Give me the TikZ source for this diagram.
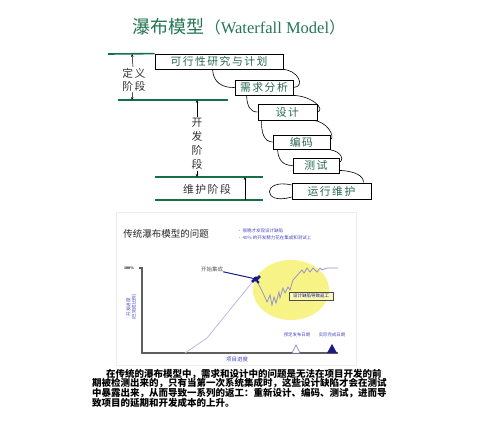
\documentclass[tikz,border=0pt]{standalone}
\usepackage{fontspec}
\setmainfont{Liberation Serif}
\newfontfamily\cjk{Noto Sans CJK SC}
\newfontfamily\cjkls{Noto Sans CJK SC}[LetterSpace=14]
\usetikzlibrary{arrows.meta}

\definecolor{wfgreen}{RGB}{35,118,82}
\definecolor{wfline}{RGB}{20,112,72}
\definecolor{wftext}{RGB}{40,105,80}
\definecolor{chnavy}{RGB}{25,25,135}
\definecolor{chblue}{RGB}{70,70,190}
\definecolor{chrise}{RGB}{185,185,232}
\definecolor{chjag}{RGB}{150,150,200}
\definecolor{chyellow}{RGB}{247,243,135}
\definecolor{chaxis}{RGB}{95,95,95}

\tikzset{
  phase/.style={draw, line width=0.8pt, minimum height=15pt, inner sep=0pt,
    fill=white, font=\cjkls\fontsize{10.8}{10.8}\selectfont, text=wftext},
  stage/.style={inner sep=1pt, font=\cjkls\fontsize{10.8}{13}\selectfont,
    text=black!80, align=center},
  bound/.style={wfline, line width=1.6pt},
  tip/.style={line width=0.5pt, -{Stealth[length=3pt,width=2.5pt]}},
  loopline/.style={line width=0.6pt},
  tiny/.style={font=\cjk\fontsize{4.5}{5.5}\selectfont, text=chblue, inner sep=0pt},
}

\begin{document}
\begin{tikzpicture}[x=1pt,y=-1pt]
\useasboundingbox (0,0) rectangle (498,429);

% title
\node[text=wfgreen, inner sep=0pt] (title) at (239,27)
  {{\cjk\fontsize{18}{18}\selectfont 瀑布模型}{\cjk\fontsize{16}{16}\selectfont （}{\fontsize{16.5}{16.5}\selectfont Waterfall Model}{\cjk\fontsize{16}{16}\selectfont ）}};

% phases
\node[phase, minimum width=128pt] (plan)   at (219,61.5)  {可行性研究与计划};
\node[phase, minimum width=58pt]  (req)    at (264,87.5)  {需求分析};
\node[phase, minimum width=59pt, minimum height=16pt] (design) at (287.5,112) {设计};
\node[phase, minimum width=57pt, minimum height=14pt] (code)   at (301.5,142) {编码};
\node[phase, minimum width=46pt]  (test)   at (316,165.5) {测试};
\node[phase, minimum width=79pt, minimum height=16pt] (run) at (331.5,191) {运行维护};

% stage boundaries
\coordinate (defL) at (108,54);
\coordinate (devL) at (118,100);
\coordinate (devR) at (228,100);
\coordinate (mntTL) at (155,177);
\coordinate (mntTR) at (263,177);
\coordinate (mntBL) at (155,200);
\coordinate (mntBR) at (263,200);
\draw[bound] (defL) -- (plan.north west);
\draw[bound] (devL) -- (devR);
\draw[bound] (mntTL) -- (mntTR);
\draw[bound] (mntBL) -- (mntBR);

% stage labels
\coordinate (defTop) at (132,54);
\coordinate (defBot) at (132,100);
\coordinate (devTop) at (197,100);
\coordinate (devBot) at (197,177);
\coordinate (mntTop) at (245,177);
\coordinate (mntBot) at (245,200);
\node[stage] (defLbl) at (134,79.5) {定义\\阶段};
\node[stage, font=\cjk\fontsize{10.8}{14}\selectfont] (devLbl) at (197,144) {开\\发\\阶\\段};
\node[stage] (mntLbl) at (207,189) {维护阶段};
\draw[tip] (defLbl) -- (defTop);
\draw[tip] (defLbl) -- (defBot);
\draw[tip] (devLbl) -- (devTop);
\draw[tip] (devLbl) -- (devBot);
\draw[tip, {Stealth[length=3pt,width=2.5pt]}-] (mntTop) -- (mntBot);

% forward arcs
\draw[loopline] ([xshift=-2pt]plan.south east) .. controls (298,69) and (306,87) .. (req.east);
\draw[loopline] ([xshift=-2pt]req.south east) .. controls (312,95) and (326,110) .. (design.east);
\draw[loopline] ([xshift=-4pt]design.south east) .. controls (326,121) and (336,136) .. ([yshift=2pt]code.east);
\draw[loopline] ([xshift=-5pt]code.south east) .. controls (338,149) and (346,158) .. ([yshift=3pt]test.east);
\draw[loopline] ([yshift=3pt]test.south east) .. controls (355,171) and (364,176) .. ([xshift=-8pt]run.north east);

% feedback arcs
\draw[loopline] ([xshift=58pt]plan.south west) .. controls (213,82) and (222,88) .. (req.west);
\draw[loopline] ([xshift=12pt]req.south west) .. controls (247,106) and (250,112) .. (design.west);
\draw[loopline] ([xshift=4pt]design.south west) .. controls (261,132) and (264,142) .. (code.west);
\draw[loopline] ([xshift=5pt]code.south west) .. controls (278,160) and (283,165.5) .. (test.west);
\draw[loopline] ([yshift=6pt]run.west) .. controls (262,178) and (262,206) .. ([yshift=-6pt]run.west);

% chart
\draw[black!7] (116,212) rectangle (356,365);
\node[font=\cjk\fontsize{9.5}{9.5}\selectfont, text=black!85, inner sep=0pt] (chartTitle) at (166,234) {传统瀑布模型的问题};
\node[tiny, anchor=west] (note1) at (237,231) {• 很晚才发现设计缺陷};
\node[tiny, anchor=west] (note2) at (237,237.5) {• 40\% 的开发精力花在集成和测试上};

\fill[chyellow] (291,290) ellipse [x radius=38pt, y radius=30pt];
\draw[chaxis, line width=1.2pt] (139,268) -- (142,268) -- (142,353) -- (338,353);
\node[font=\bfseries\fontsize{4}{4}\selectfont, inner sep=0pt] (full) at (129,268) {100\%};
\node[tiny, rotate=90, align=center] (yLbl) at (131.5,307) {开发进度\\(已完成比例)};
\node[tiny, font=\cjk\fontsize{5.5}{5.5}\selectfont] (xLbl) at (237,359) {项目进度};

\draw[chrise, line width=0.8pt] (185,353) -- (207,338) -- (254,280);
\draw[chjag, line width=0.8pt] (257,281) -- (263,293) -- (267,302) -- (270,295) -- (272,305)
  -- (274,297) -- (276,303) -- (279,292) -- (280,298) -- (283,288) -- (285,293) -- (288,287)
  -- (290,290) -- (293,280) -- (302,270) -- (304,273) -- (307,268) -- (310,272) -- (313,268)
  -- (317,272) -- (320,268) -- (322,270) -- (327,268) -- (338,268);

\node[font=\cjk\fontsize{5.5}{5.5}\selectfont, text=black!65, inner sep=0pt] (startInt) at (212,269) {开始集成};
\coordinate (blob) at (256,279);
\fill[chnavy] (blob) circle (2.6pt) (253,281) circle (1.8pt) (259,277) circle (1.8pt) (258,282) circle (1.5pt);
\draw[chnavy, line width=1pt] (startInt.south east) -- (blob);

\node[draw=black!70, line width=0.4pt, fill=chyellow!60!white, tiny, text=chnavy,
  minimum width=44pt, minimum height=8pt] (rework) at (311,296) {设计缺陷导致返工};
\draw[black!70, line width=1pt] (rework.north east) -- (rework.south east) -- (rework.south west);

\node[tiny, font=\cjk\fontsize{4.4}{4.4}\selectfont] (plannedLbl) at (297,335) {预定发布日期};
\node[tiny, font=\cjk\fontsize{4.4}{4.4}\selectfont] (actualLbl) at (332,335) {实际完成日期};
\draw[chnavy!60, line width=0.5pt, fill=white] (292,353) -- (296,345) -- (300,353) -- cycle;
\fill[chnavy] (327,353) -- (332,344) -- (337,353) -- cycle;

% paragraph
\begin{scope}[every node/.style={anchor=west, inner sep=0pt, font=\cjk\bfseries\fontsize{9.5}{9.5}\selectfont}]
\node (para1) at (106,374) {在传统的瀑布模型中，需求和设计中的问题是无法在项目开发的前};
\node (para2) at (92,383.5) {期被检测出来的，只有当第一次系统集成时，这些设计缺陷才会在测试};
\node (para3) at (92,393) {中暴露出来，从而导致一系列的返工：重新设计、编码、测试，进而导};
\node (para4) at (92,402.5) {致项目的延期和开发成本的上升。};
\end{scope}

\end{tikzpicture}
\end{document}
